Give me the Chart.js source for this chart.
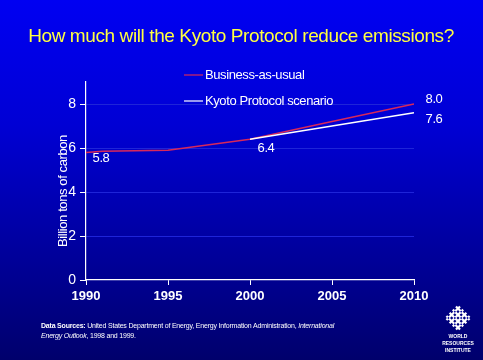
<!DOCTYPE html>
<html>
<head>
<meta charset="utf-8">
<script src="https://cdn.jsdelivr.net/npm/chart.js@4"></script>
<style>
  html, body { margin: 0; padding: 0; }
  body {
    width: 483px; height: 360px; overflow: hidden;
    background: linear-gradient(to bottom, #0000f2 0%, #0000d4 35%, #00009c 70%, #00006c 100%);
  }
  #wrap { position: relative; width: 483px; height: 360px; }
</style>
</head>
<body>
<div id="wrap"><canvas id="kyoto" width="483" height="360"></canvas></div>
<script>
const years = [1990, 1991, 1995, 2000, 2005, 2010];
const businessAsUsual = [5.8, 5.85, 5.9, 6.4, 7.2, 8.0];
const kyotoYears = [2000, 2005, 2010];
const kyotoScenario = [6.4, 7.0, 7.6];
const yTicks = [0, 2, 4, 6, 8];
const xTicks = [1990, 1995, 2000, 2005, 2010];
const seriesNames = ["Business-as-usual", "Kyoto Protocol scenario"];
const pointLabels = [
  { series: 0, year: 1990, text: "5.8", dx: 15, dy: 6 },
  { series: 0, year: 2000, text: "6.4", dx: 16, dy: 9 },
  { series: 0, year: 2010, text: "8.0", dx: 20, dy: -5 },
  { series: 1, year: 2010, text: "7.6", dx: 20, dy: 7 }
];

const FONT = '"Liberation Sans", "DejaVu Sans", sans-serif';

// extra text, legend, labels and logo drawn straight on the canvas
const decor = {
  id: "decor",
  afterDraw(chart) {
    const ctx = chart.ctx;
    const xs = chart.scales.x, ys = chart.scales.y;
    ctx.save();
    ctx.letterSpacing = "-0.4px";

    // title
    ctx.fillStyle = "#ffff40";
    ctx.font = "19px " + FONT;
    ctx.textAlign = "center";
    ctx.textBaseline = "middle";
    ctx.fillText("How much will the Kyoto Protocol reduce emissions?", 241, 37);

    // y axis title
    ctx.fillStyle = "#ffffff";
    ctx.font = "13px " + FONT;
    ctx.save();
    ctx.translate(63, 191);
    ctx.rotate(-Math.PI / 2);
    ctx.fillText("Billion tons of carbon", 0, 0);
    ctx.restore();

    // legend
    ctx.textAlign = "left";
    chart.data.datasets.forEach((ds, i) => {
      const y = 75 + i * 26;
      ctx.strokeStyle = ds.borderColor;
      ctx.lineWidth = 1.2;
      ctx.beginPath();
      ctx.moveTo(184, y);
      ctx.lineTo(203, y);
      ctx.stroke();
      ctx.fillStyle = "#ffffff";
      ctx.fillText(ds.label, 205, y);
    });

    // value labels
    ctx.textAlign = "center";
    pointLabels.forEach(p => {
      const ds = chart.data.datasets[p.series];
      const pt = ds.data.find(d => d.x === p.year);
      ctx.fillText(p.text, xs.getPixelForValue(pt.x) + p.dx, ys.getPixelForValue(pt.y) + p.dy);
    });

    // sources
    ctx.letterSpacing = "-0.2px";
    ctx.textAlign = "left";
    ctx.font = "bold 7px " + FONT;
    const lead = "Data Sources: ";
    ctx.fillText(lead, 41, 326);
    let x = 41 + ctx.measureText(lead).width;
    ctx.font = "7px " + FONT;
    const mid = "United States Department of Energy, Energy Information Administration, ";
    ctx.fillText(mid, x, 326);
    x += ctx.measureText(mid).width;
    ctx.font = "italic 7px " + FONT;
    ctx.fillText("International", x, 326);
    ctx.fillText("Energy Outlook", 41, 336);
    const w = ctx.measureText("Energy Outlook").width;
    ctx.font = "7px " + FONT;
    ctx.fillText(", 1998 and 1999.", 41 + w, 336);

    // WRI logo
    ctx.save();
    ctx.translate(458, 318);
    ctx.rotate(Math.PI / 4);
    ctx.strokeStyle = "#ffffff";
    ctx.lineWidth = 2.2;
    const s = 8;
    for (let k = -1.5; k <= 1.5; k += 1) {
      ctx.beginPath();
      ctx.moveTo(-s * 1.2, k * 4.5);
      ctx.lineTo(s * 1.2, k * 4.5);
      ctx.stroke();
      ctx.beginPath();
      ctx.moveTo(k * 4.5, -s * 1.2);
      ctx.lineTo(k * 4.5, s * 1.2);
      ctx.stroke();
    }
    ctx.fillStyle = "#0000a0";
    for (let a = -1.5; a <= 1.5; a += 1) {
      for (let b = -1.5; b <= 1.5; b += 1) {
        if ((a + b) % 2 === 0) ctx.fillRect(a * 4.5 - 0.8, b * 4.5 - 0.8, 1.6, 1.6);
      }
    }
    ctx.restore();
    ctx.fillStyle = "#ffffff";
    ctx.textAlign = "center";
    ctx.font = "bold 5px " + FONT;
    ctx.letterSpacing = "0px";
    ctx.fillText("WORLD", 458, 337);
    ctx.fillText("RESOURCES", 458, 344);
    ctx.fillText("INSTITUTE", 458, 351);

    ctx.restore();
  }
};

new Chart(document.getElementById("kyoto"), {
  type: "line",
  data: {
    datasets: [
      {
        label: seriesNames[0],
        data: years.map((y, i) => ({ x: y, y: businessAsUsual[i] })),
        borderColor: "#d8285a",
        borderWidth: 1.5,
        pointRadius: 0,
        tension: 0,
        order: 1
      },
      {
        label: seriesNames[1],
        data: kyotoYears.map((y, i) => ({ x: y, y: kyotoScenario[i] })),
        borderColor: "#ffffff",
        borderWidth: 1.5,
        pointRadius: 0,
        tension: 0,
        order: 0
      }
    ]
  },
  options: {
    responsive: false,
    animation: false,
    layout: { padding: { left: 56, right: 69, top: 82, bottom: 50 } },
    plugins: {
      legend: { display: false },
      title: { display: false },
      tooltip: { enabled: false }
    },
    scales: {
      x: {
        type: "linear",
        min: 1990,
        max: 2010,
        afterFit: s => { s.height = 30; },
        afterBuildTicks: s => { s.ticks = xTicks.map(v => ({ value: v })); },
        grid: { drawOnChartArea: false, tickColor: "#ffffff", tickLength: 5 },
        border: { color: "#ffffff", width: 1.2 },
        ticks: {
          color: "#ffffff",
          font: { family: FONT, size: 13, weight: "bold" },
          padding: 4,
          maxRotation: 0,
          callback: v => String(v)
        }
      },
      y: {
        min: 0,
        max: 9,
        afterFit: s => { s.width = 30; },
        afterBuildTicks: s => { s.ticks = yTicks.map(v => ({ value: v })); },
        grid: {
          color: c => c.tick && c.tick.value > 0 ? "#1e24d8" : "rgba(0,0,0,0)",
          tickColor: "#ffffff",
          tickLength: 6
        },
        border: { color: "#ffffff", width: 1.2 },
        ticks: {
          color: "#ffffff",
          font: { family: FONT, size: 14 },
          padding: 4
        }
      }
    }
  },
  plugins: [decor]
});
</script>
</body>
</html>
